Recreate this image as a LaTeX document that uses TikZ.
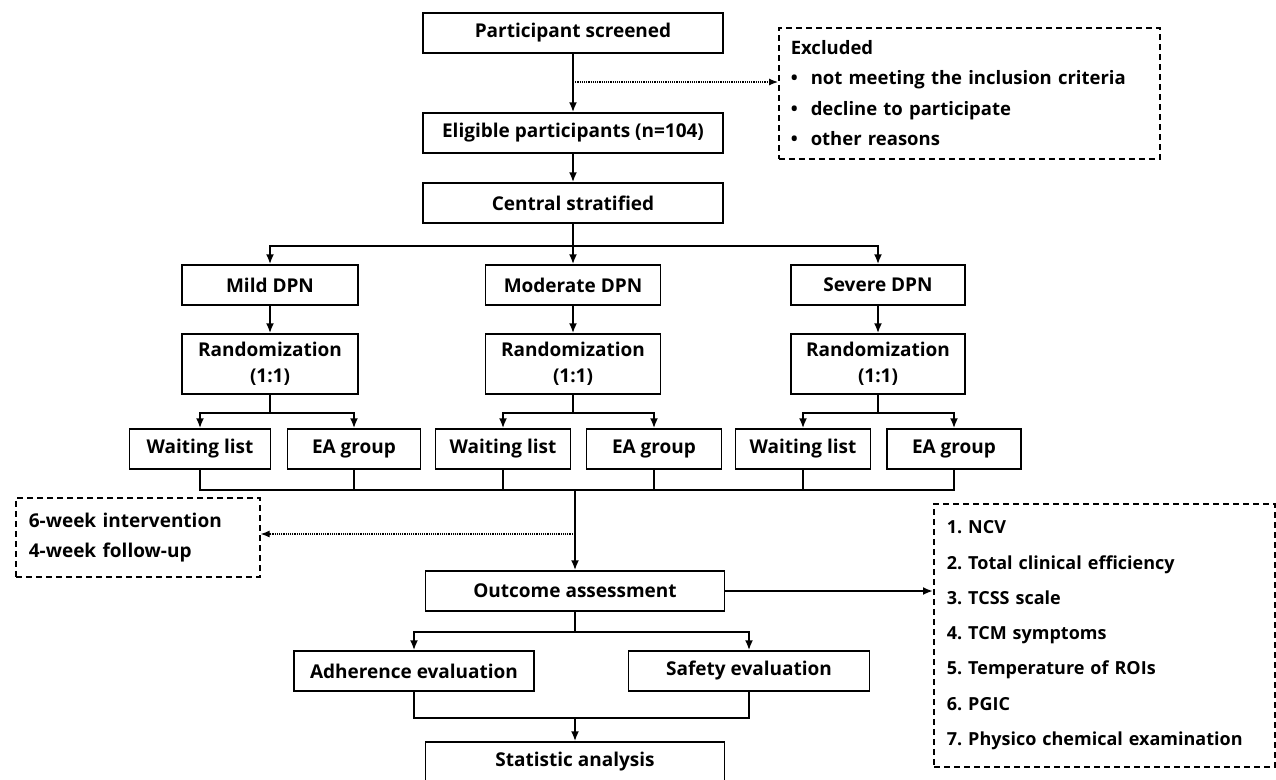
\documentclass[tikz,border=0pt]{standalone}
\usepackage{fontspec}
\setmainfont{Open Sans}
\usepackage{tikz}
\usetikzlibrary{arrows.meta}
\frenchspacing
\tikzstyle{process} = [rectangle, minimum height=40pt, text centered, draw=black, line width=1.4pt, inner sep=0pt, font=\fontsize{19}{26}\selectfont\bfseries]
\tikzstyle{note} = [rectangle, dash pattern=on 6pt off 4pt, draw=black, line width=1.6pt, anchor=north west, align=left, inner xsep=12pt, inner ysep=0pt]
\tikzstyle{arrow} = [line width=2pt, -{Latex[length=10pt,width=8pt]}]
\tikzstyle{link} = [line width=2pt]
\tikzstyle{dotarrow} = [line width=1.2pt, densely dotted, -{Latex[length=9pt,width=7pt]}]

\begin{document}
\begin{tikzpicture}[x=1pt, y=-1pt]
\useasboundingbox (0,0) rectangle (1276,779);
\node (screened) [process, minimum width=300pt] at (573,33) {Participant screened};
\node (eligible) [process, minimum width=300pt] at (573,133) {Eligible participants (n=104)};
\node (central) [process, minimum width=300pt] at (573,203) {Central stratified};
\node (excluded) [note, text width=357pt, minimum height=131pt, font=\fontsize{18.5}{30.5}\selectfont\bfseries] at (778,27)
  {Excluded\\
   \textbullet\hspace{13pt}not meeting the inclusion criteria\\
   \textbullet\hspace{13pt}decline to participate\\
   \textbullet\hspace{13pt}other reasons};

\node (mild) [process, minimum width=176pt] at (270,285) {Mild DPN};
\node (moderate) [process, minimum width=175pt] at (573,285) {Moderate DPN};
\node (severe) [process, minimum width=174pt] at (878,285) {Severe DPN};

\node (rand1) [process, minimum width=176pt, minimum height=60pt, align=center] at (270,364) {Randomization\\(1:1)};
\node (rand2) [process, minimum width=175pt, minimum height=60pt, align=center] at (573,364) {Randomization\\(1:1)};
\node (rand3) [process, minimum width=174pt, minimum height=60pt, align=center] at (878,364) {Randomization\\(1:1)};

\node (wait1) [process, minimum width=141pt] at (200,449) {Waiting list};
\node (ea1) [process, minimum width=133pt] at (354,449) {EA group};
\node (wait2) [process, minimum width=135pt] at (503,449) {Waiting list};
\node (ea2) [process, minimum width=135pt] at (654,449) {EA group};
\node (wait3) [process, minimum width=135pt] at (803,449) {Waiting list};
\node (ea3) [process, minimum width=134pt] at (954,449) {EA group};

\node (interv) [note, text width=218pt, minimum height=79pt, font=\fontsize{19}{30}\selectfont\bfseries, inner xsep=13pt] at (15,497)
  {6-week intervention\\4-week follow-up};

\node (outcome) [process, minimum width=299pt] at (575,591) {Outcome assessment};
\node (measures) [note, text width=315pt, minimum height=263pt, font=\fontsize{18}{35.3}\selectfont\bfseries, inner xsep=13pt] at (933,503)
  {1. NCV\\
   2. Total clinical efficiency\\
   3. TCSS scale\\
   4. TCM symptoms\\
   5. Temperature of ROIs\\
   6. PGIC\\
   \mbox{7. Physico chemical examination}};

\node (adherence) [process, minimum width=240pt] at (414,671) {Adherence evaluation};
\node (safety) [process, minimum width=241pt] at (749,671) {Safety evaluation};
\node (statistic) [process, minimum width=299pt] at (575,762) {Statistic analysis};

\coordinate (dot1) at (573,82);
\coordinate (merge1) at (575,490);
\coordinate (dot2) at (575,534);
\coordinate (merge2) at (575,718);

\draw [arrow] (screened) -- (eligible);
\draw [dotarrow] (dot1) -- (dot1 -| excluded.west);
\draw [arrow] (eligible) -- (central);
\draw [arrow] (central.south) -- ++(0,22) -| (mild.north);
\draw [arrow] (central.south) -- ++(0,22) -| (severe.north);
\draw [arrow] (central) -- (moderate);

\draw [arrow] (mild) -- (rand1);
\draw [arrow] (moderate) -- (rand2);
\draw [arrow] (severe) -- (rand3);

\draw [arrow] (rand1.south) -- ++(0,18) -| (wait1.north);
\draw [arrow] (rand1.south) -- ++(0,18) -| (ea1.north);
\draw [arrow] (rand2.south) -- ++(0,18) -| (wait2.north);
\draw [arrow] (rand2.south) -- ++(0,18) -| (ea2.north);
\draw [arrow] (rand3.south) -- ++(0,18) -| (wait3.north);
\draw [arrow] (rand3.south) -- ++(0,18) -| (ea3.north);

\draw [link] (wait1.south) |- (merge1) -| (ea3.south);
\draw [link] (ea1.south) -- (ea1.south |- merge1);
\draw [link] (wait2.south) -- (wait2.south |- merge1);
\draw [link] (ea2.south) -- (ea2.south |- merge1);
\draw [link] (wait3.south) -- (wait3.south |- merge1);
\draw [arrow] (merge1) -- (outcome);
\draw [dotarrow] (dot2) -- (dot2 -| interv.east);

\draw [arrow] (outcome) -- (outcome -| measures.west);
\draw [arrow] (outcome.south) -- ++(0,20) -| (adherence.north);
\draw [arrow] (outcome.south) -- ++(0,20) -| (safety.north);
\draw [link] (adherence.south) |- (merge2) -| (safety.south);
\draw [arrow] (merge2) -- (statistic);
\end{tikzpicture}
\end{document}
